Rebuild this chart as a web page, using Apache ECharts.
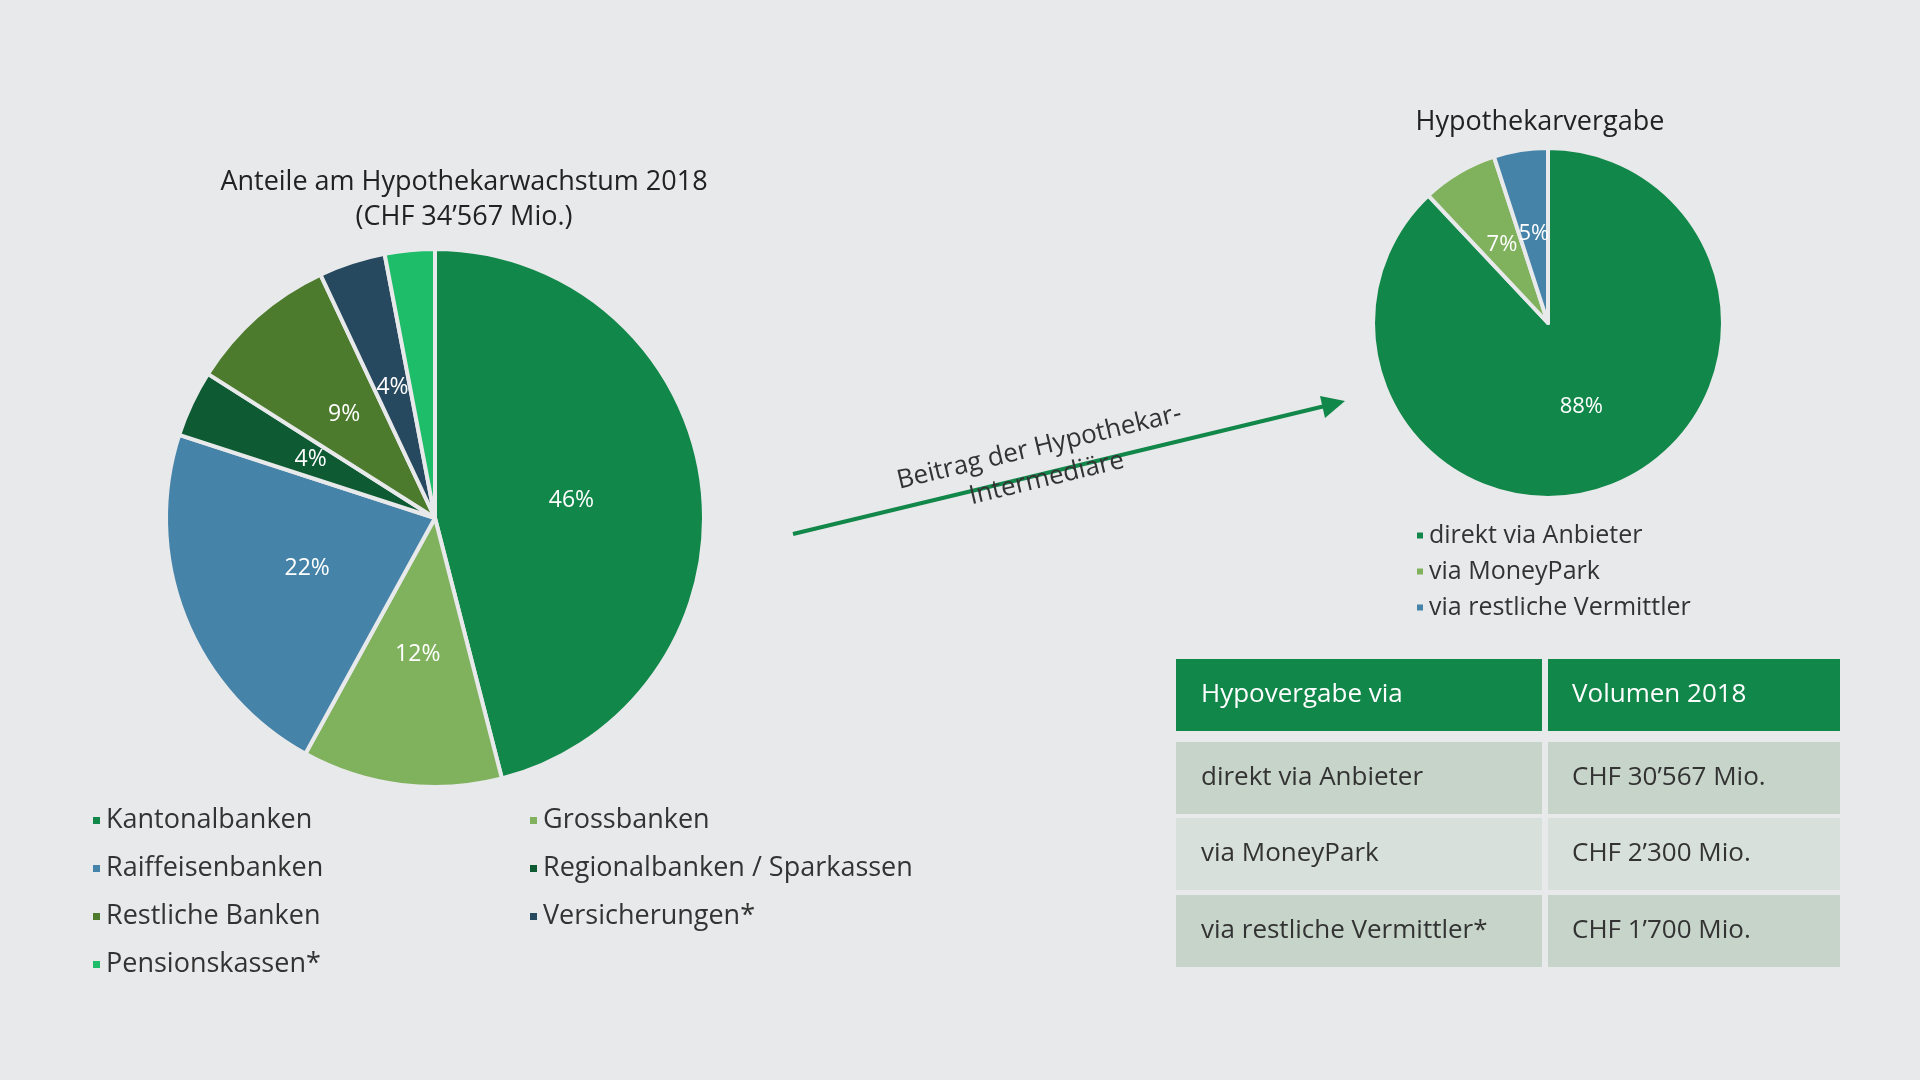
<!DOCTYPE html>
<html><head><meta charset="utf-8">
<script src="https://cdn.jsdelivr.net/npm/echarts@6/dist/echarts.min.js"></script>
<style>html,body{margin:0;padding:0;background:#e8e9ea}#c{width:1920px;height:1080px}</style>
</head><body><div id="c"></div>
<script>
// Anteile am Hypothekarwachstum 2018 (im Uhrzeigersinn ab 12 Uhr)
var leftNames = ['Kantonalbanken', 'Grossbanken', 'Raiffeisenbanken', 'Regionalbanken / Sparkassen', 'Restliche Banken', 'Versicherungen*', 'Pensionskassen*'];
var leftValues = [46, 12, 22, 4, 9, 4, 3];
var leftColors = ['#12874a', '#80b25e', '#4683a9', '#0d5a33', '#4d7b2d', '#26495f', '#1dbd69'];

var rightNames = ['direkt via Anbieter', 'via MoneyPark', 'via restliche Vermittler'];
var rightValues = [88, 7, 5];
var rightColors = ['#12874a', '#80b25e', '#4683a9'];

var tableHead = ['Hypovergabe via', 'Volumen 2018'];
var tableRows = [
  ['direkt via Anbieter', 'CHF 30\u2019567 Mio.'],
  ['via MoneyPark', 'CHF 2\u2019300 Mio.'],
  ['via restliche Vermittler*', 'CHF 1\u2019700 Mio.']
];

var font = '"Open Sans", "Noto Sans", sans-serif';
var chart = echarts.init(document.getElementById('c'));

function pieData(names, values, colors) {
  return names.map(function (n, i) { return { name: n, value: values[i], itemStyle: { color: colors[i] } }; });
}

// Tabelle als Grafik
var graphics = [];
var colX = [1176, 1545, 1840];
var rowY = [[659, 731], [742, 814], [818, 890], [895, 967]];
var rowBg = ['#12874a', '#c6d4ca', '#d8e0db', '#c6d4ca'];
var allRows = [tableHead].concat(tableRows);
allRows.forEach(function (r, i) {
  for (var j = 0; j < 2; j++) {
    graphics.push({ type: 'rect', shape: { x: colX[j] + (j ? 3 : 0), y: rowY[i][0], width: colX[j + 1] - colX[j] - 3, height: rowY[i][1] - rowY[i][0] },
      style: { fill: rowBg[i] } });
    graphics.push({ type: 'text', x: colX[j] + (j ? 27 : 25), y: (rowY[i][0] + rowY[i][1]) / 2,
      style: { text: r[j], fill: i === 0 ? '#fff' : '#333', font: '26px ' + font, textVerticalAlign: 'middle' } });
  }
});
// Pfeil
graphics.push({ type: 'line', shape: { x1: 793, y1: 534, x2: 1325, y2: 406 }, style: { stroke: '#12874a', lineWidth: 4 } });
graphics.push({ type: 'polygon', shape: { points: [[1345, 401], [1320, 396], [1325, 418]] }, style: { fill: '#12874a' } });
graphics.push({ type: 'text', x: 1043, y: 463, rotation: 13.5 * Math.PI / 180,
  style: { text: 'Beitrag der Hypothekar-\nIntermediäre', fill: '#333', font: '26px ' + font, textAlign: 'center', textVerticalAlign: 'middle', lineHeight: 32 } });

var lblStyle = { show: true, position: 'inner', formatter: '{c}%', color: '#fff', fontSize: 23, fontFamily: font };
var legBase = { orient: 'vertical', itemWidth: 9, itemHeight: 9, itemGap: 21, icon: 'rect', selectedMode: false,
  textStyle: { fontSize: 27, color: '#333', fontFamily: font } };

chart.setOption({
  backgroundColor: '#e8e9ea',
  title: [
    { text: 'Anteile am Hypothekarwachstum 2018\n(CHF 34\u2019567 Mio.)', left: 459, top: 160, textAlign: 'center',
      textStyle: { fontSize: 27, fontWeight: 'normal', color: '#222', fontFamily: font, lineHeight: 35 } },
    { text: 'Hypothekarvergabe', left: 1535, top: 104, textAlign: 'center',
      textStyle: { fontSize: 27, fontWeight: 'normal', color: '#222', fontFamily: font } }
  ],
  legend: [
    Object.assign({}, legBase, { left: 86, top: 802, data: ['Kantonalbanken', 'Raiffeisenbanken', 'Restliche Banken', 'Pensionskassen*'] }),
    Object.assign({}, legBase, { left: 523, top: 802, data: ['Grossbanken', 'Regionalbanken / Sparkassen', 'Versicherungen*'] }),
    Object.assign({}, legBase, { left: 1410, top: 518, itemGap: 11, itemWidth: 8, itemHeight: 8, data: rightNames,
      textStyle: { fontSize: 25, color: '#333', fontFamily: font } })
  ],
  series: [
    { type: 'pie', center: [435, 518], radius: [0, 269], startAngle: 90, clockwise: true, animation: false,
      itemStyle: { borderColor: '#e8e9ea', borderWidth: 4 }, label: lblStyle, labelLine: { show: false },
      data: pieData(leftNames, leftValues, leftColors) },
    { type: 'pie', center: [1548, 323], radius: [0, 175], startAngle: 90, clockwise: true, animation: false,
      itemStyle: { borderColor: '#e8e9ea', borderWidth: 4 }, label: Object.assign({}, lblStyle, { fontSize: 22 }), labelLine: { show: false },
      data: pieData(rightNames, rightValues, rightColors) }
  ],
  graphic: graphics
});
</script></body></html>
